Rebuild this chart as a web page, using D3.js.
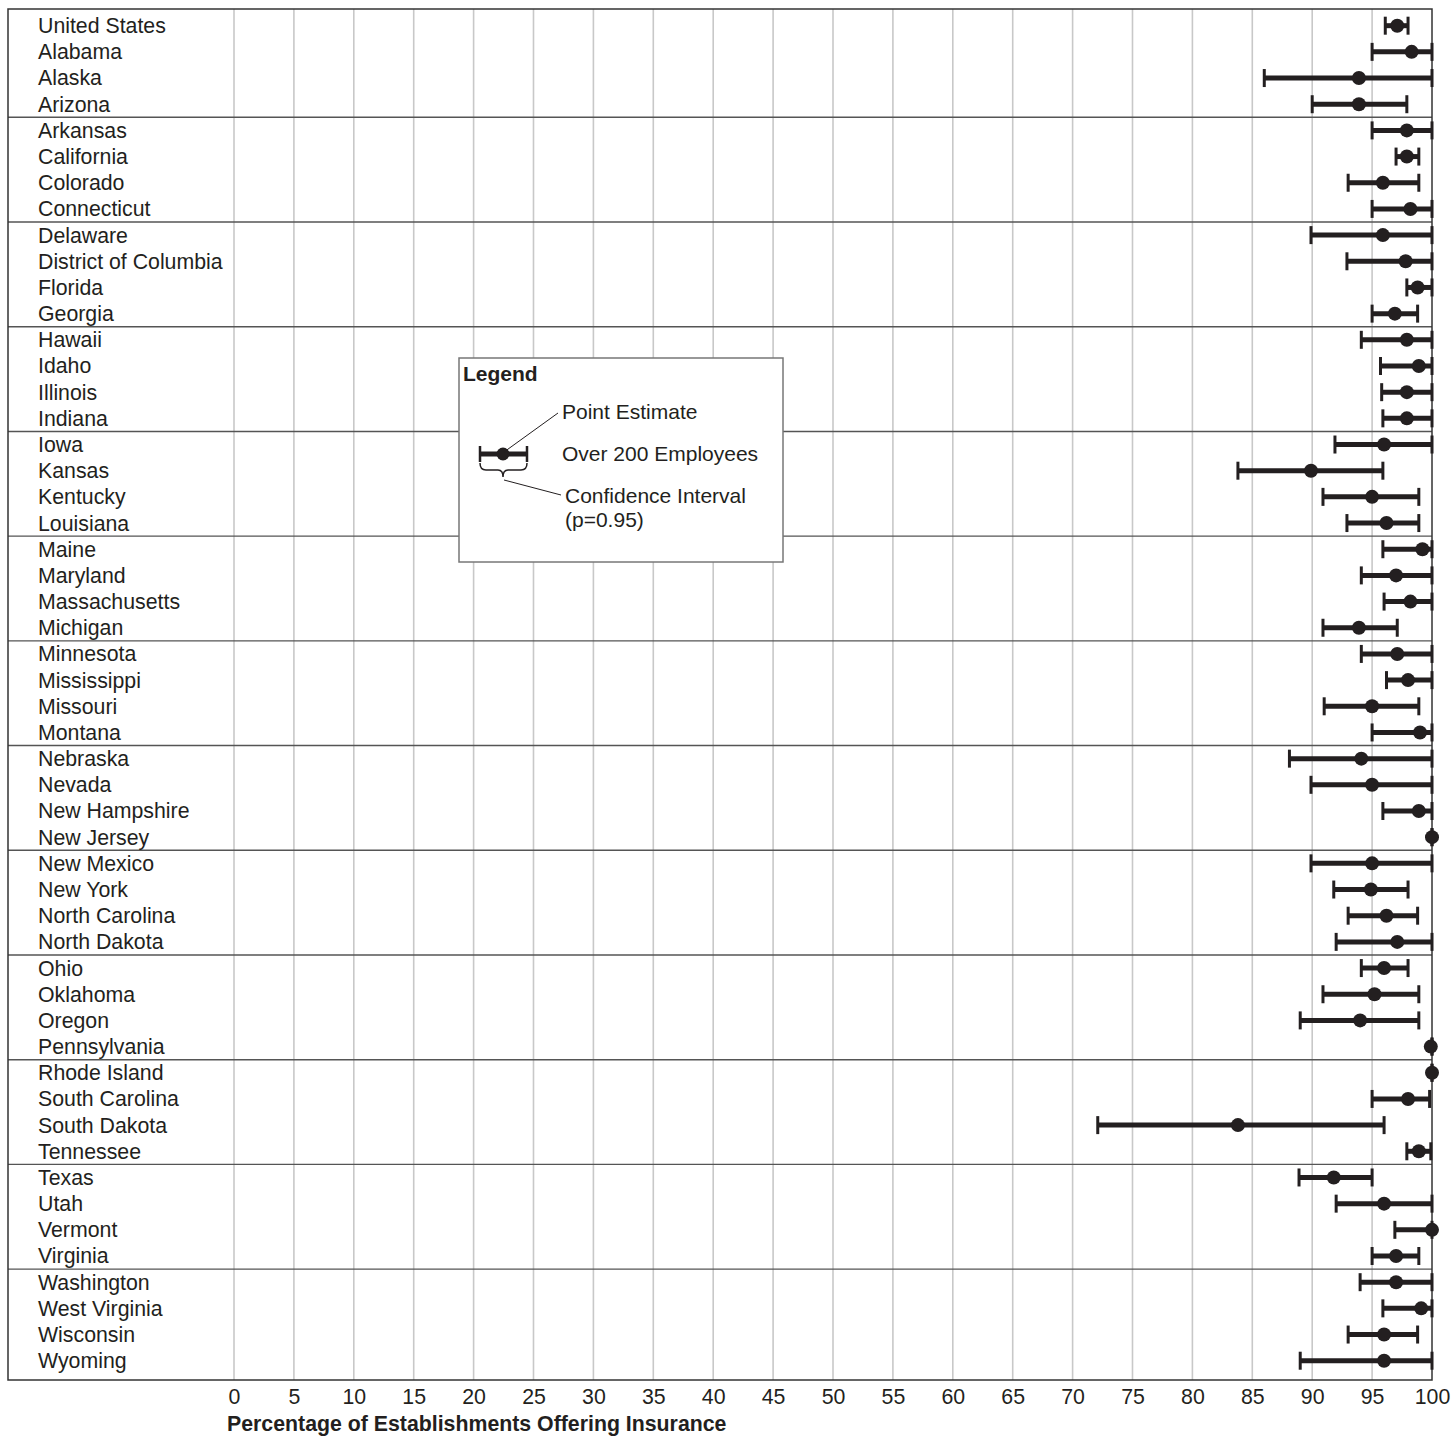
<!DOCTYPE html>
<html>
<head>
<meta charset="utf-8">
<script src="https://cdn.jsdelivr.net/npm/d3@7"></script>
<style>
  body { margin: 0; background: #fff; }
  text { font-family: "Liberation Sans", Arial, Helvetica, sans-serif; fill: #231f20; }
</style>
</head>
<body>
<script>
// Data: point estimate and confidence interval per state
var states = ["United States", "Alabama", "Alaska", "Arizona", "Arkansas", "California", "Colorado",
  "Connecticut", "Delaware", "District of Columbia", "Florida", "Georgia", "Hawaii", "Idaho",
  "Illinois", "Indiana", "Iowa", "Kansas", "Kentucky", "Louisiana", "Maine", "Maryland",
  "Massachusetts", "Michigan", "Minnesota", "Mississippi", "Missouri", "Montana", "Nebraska",
  "Nevada", "New Hampshire", "New Jersey", "New Mexico", "New York", "North Carolina",
  "North Dakota", "Ohio", "Oklahoma", "Oregon", "Pennsylvania", "Rhode Island", "South Carolina",
  "South Dakota", "Tennessee", "Texas", "Utah", "Vermont", "Virginia", "Washington",
  "West Virginia", "Wisconsin", "Wyoming"];

var estimate = [97.1, 98.3, 93.9, 93.9, 97.9, 97.9, 95.9,
  98.2, 95.9, 97.8, 98.8, 96.9, 97.9, 98.9,
  97.9, 97.9, 96.0, 89.9, 95.0, 96.2, 99.2, 97.0,
  98.2, 93.9, 97.1, 98.0, 95.0, 99.0, 94.1,
  95.0, 98.9, 100, 95.0, 94.9, 96.2,
  97.1, 96.0, 95.2, 94.0, 99.9, 100, 98.0,
  83.8, 98.9, 91.8, 96.0, 100, 97.0, 97.0,
  99.1, 96.0, 96.0];

var lower = [96.1, 95.0, 86.0, 90.0, 95.0, 97.0, 93.0,
  95.0, 89.9, 92.9, 97.9, 95.0, 94.1, 95.7,
  95.8, 95.9, 91.9, 83.8, 90.9, 92.9, 95.9, 94.1,
  96.0, 90.9, 94.1, 96.2, 91.0, 95.0, 88.1,
  89.9, 95.9, 100, 89.9, 91.8, 93.0,
  92.0, 94.1, 90.9, 89.0, 100, 100, 95.0,
  72.1, 97.9, 88.9, 92.0, 96.9, 95.0, 94.0,
  95.9, 93.0, 89.0];

var upper = [98.0, 100, 100, 97.9, 100, 98.9, 98.9,
  100, 100, 100, 100, 98.8, 100, 100,
  100, 100, 100, 95.9, 98.9, 98.9, 100, 100,
  100, 97.1, 100, 100, 98.9, 100, 100,
  100, 100, 100, 100, 98.0, 98.8,
  100, 98.0, 98.9, 98.9, 100, 100, 99.8,
  96.0, 99.9, 95.0, 100, 100, 98.9, 100,
  100, 98.8, 100];

var xTicks = d3.range(0, 101, 5);

var width = 1454, height = 1437;
var frameLeft = 8, frameTop = 9, frameBottom = 1380;

var svg = d3.select("body").append("svg")
    .attr("width", width)
    .attr("height", height);

// Scales
var x = d3.scaleLinear().domain([0, 100]).range([234, 1432]);
var y = d3.scaleBand().domain(states).range([12.6, 1373.8]);
var rowMid = function(d) { return y(d) + y.bandwidth() / 2; };

// Vertical grid lines
svg.append("g").selectAll("line")
   .data(xTicks.filter(function(t) { return t < 100; }))
   .enter().append("line")
   .attr("x1", function(d) { return x(d); })
   .attr("x2", function(d) { return x(d); })
   .attr("y1", frameTop)
   .attr("y2", frameBottom)
   .style("stroke", "#c8c8c8")
   .style("stroke-width", 1.6);

// Group separators every 4 rows
var seps = d3.range(4, states.length, 4);
svg.append("g").selectAll("line")
   .data(seps)
   .enter().append("line")
   .attr("x1", frameLeft)
   .attr("x2", x(100))
   .attr("y1", function(i) { return y(states[i]); })
   .attr("y2", function(i) { return y(states[i]); })
   .style("stroke", "#555")
   .style("stroke-width", 1.4);

// Frame
svg.append("rect")
   .attr("x", frameLeft)
   .attr("y", frameTop)
   .attr("width", x(100) - frameLeft)
   .attr("height", frameBottom - frameTop)
   .style("fill", "none")
   .style("stroke", "#333")
   .style("stroke-width", 1.5);

// State labels
svg.append("g").selectAll("text")
   .data(states)
   .enter().append("text")
   .attr("x", 38)
   .attr("y", rowMid)
   .attr("dy", "0.35em")
   .style("font-size", "21.3px")
   .text(function(d) { return d; });

// Axis (ticks labels only, no domain line)
var axis = svg.append("g")
   .attr("transform", "translate(0," + frameBottom + ")")
   .call(d3.axisBottom(x).tickValues(xTicks).tickSize(0).tickPadding(9));
axis.select(".domain").remove();
axis.selectAll("text")
   .style("font-size", "21.3px")
   .style("font-family", "'Liberation Sans', Arial, sans-serif")
   .style("fill", "#231f20");

svg.append("text")
   .attr("x", 227)
   .attr("y", 1431)
   .style("font-size", "21.3px")
   .style("font-weight", "bold")
   .text("Percentage of Establishments Offering Insurance");

// Error bars
var ink = "#231f20";
var bars = svg.append("g").selectAll("g")
   .data(states)
   .enter().append("g");

bars.append("line")
   .attr("x1", function(d, i) { return x(lower[i]); })
   .attr("x2", function(d, i) { return x(upper[i]); })
   .attr("y1", rowMid)
   .attr("y2", rowMid)
   .style("stroke", ink)
   .style("stroke-width", 5);

[lower, upper].forEach(function(arr) {
  bars.append("line")
     .attr("x1", function(d, i) { return x(arr[i]); })
     .attr("x2", function(d, i) { return x(arr[i]); })
     .attr("y1", function(d) { return rowMid(d) - 9; })
     .attr("y2", function(d) { return rowMid(d) + 9; })
     .style("stroke", ink)
     .style("stroke-width", 3);
});

bars.append("circle")
   .attr("cx", function(d, i) { return x(estimate[i]); })
   .attr("cy", rowMid)
   .attr("r", 7)
   .style("fill", ink);

// Legend box
var lg = svg.append("g");
lg.append("rect")
   .attr("x", 459).attr("y", 358)
   .attr("width", 324).attr("height", 204)
   .style("fill", "#fff")
   .style("stroke", "#777")
   .style("stroke-width", 1.5);

lg.append("text")
   .attr("x", 463).attr("y", 381)
   .style("font-size", "21px")
   .style("font-weight", "bold")
   .text("Legend");

var ly = 454;
lg.append("line")
   .attr("x1", 480).attr("x2", 527).attr("y1", ly).attr("y2", ly)
   .style("stroke", ink).style("stroke-width", 5);
[480, 527].forEach(function(cx) {
  lg.append("line")
     .attr("x1", cx).attr("x2", cx).attr("y1", ly - 8).attr("y2", ly + 8)
     .style("stroke", ink).style("stroke-width", 2.5);
});
lg.append("circle")
   .attr("cx", 503).attr("cy", ly).attr("r", 6.5)
   .style("fill", ink);

// Curly brace under the marker
lg.append("path")
   .attr("d", "M480,463 Q480,470 486,470 L498,470 Q503,470 503,477 Q503,470 508,470 L521,470 Q527,470 527,463")
   .style("fill", "none")
   .style("stroke", ink)
   .style("stroke-width", 1.5);

// Leader lines
lg.append("line")
   .attr("x1", 504).attr("y1", 452).attr("x2", 558).attr("y2", 413)
   .style("stroke", ink).style("stroke-width", 1);
lg.append("line")
   .attr("x1", 504).attr("y1", 480).attr("x2", 561).attr("y2", 495)
   .style("stroke", ink).style("stroke-width", 1);

var legendTexts = [
  { t: "Point Estimate", x: 562, y: 412 },
  { t: "Over 200 Employees", x: 562, y: 454 },
  { t: "Confidence Interval", x: 565, y: 496 },
  { t: "(p=0.95)", x: 565, y: 520 }
];
lg.selectAll(".lt")
   .data(legendTexts)
   .enter().append("text")
   .attr("class", "lt")
   .attr("x", function(d) { return d.x; })
   .attr("y", function(d) { return d.y; })
   .attr("dy", "0.35em")
   .style("font-size", "21px")
   .text(function(d) { return d.t; });
</script>
</body>
</html>
